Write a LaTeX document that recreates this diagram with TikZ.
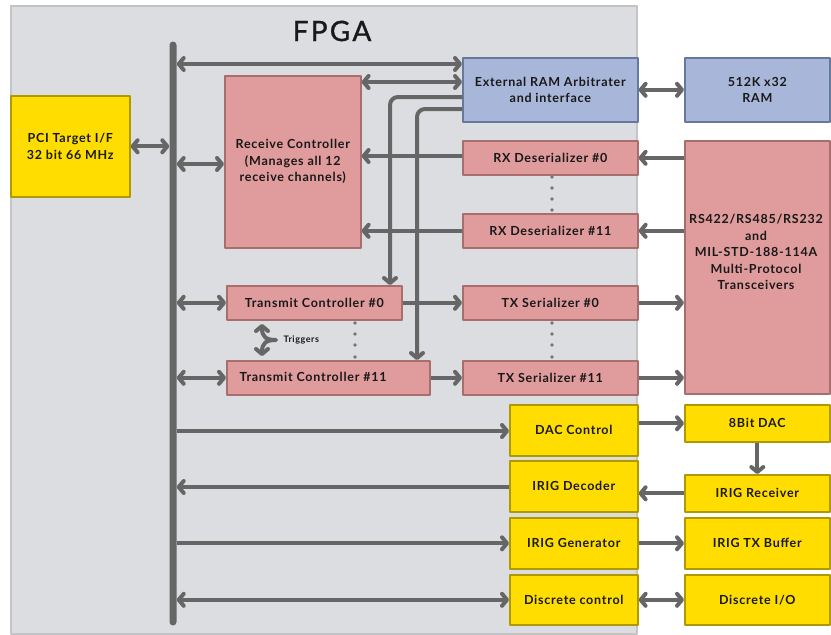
\documentclass[tikz,border=0pt]{standalone}
\usepackage{fontspec}
\setmainfont{Lato}
\newfontfamily\boxfont{Lato}[LetterSpace=6]
\newfontfamily\titlefont{Lato}[LetterSpace=8, FakeBold=1.2]
\usetikzlibrary{arrows.meta}
\definecolor{fpgabg}{HTML}{DCDDE0}
\definecolor{fpgaline}{HTML}{C4C4C6}
\definecolor{ylw}{HTML}{FFDD00}
\definecolor{ylwline}{HTML}{B09800}
\definecolor{pnk}{HTML}{E09B9C}
\definecolor{pnkline}{HTML}{A86E6E}
\definecolor{blu}{HTML}{A8B6D9}
\definecolor{bluline}{HTML}{66799C}
\definecolor{conn}{HTML}{666666}
\newcommand\blk[7]{\node[#1, minimum width=#5pt, minimum height=#6pt] (#2) at (#3,#4) {#7};}
\begin{document}
\begin{tikzpicture}[x=1pt,y=-1pt,
  box/.style={draw, line width=1.6pt, inner sep=0pt, align=center, anchor=north west,
    text=black!90, font=\boxfont\fontsize{12.5}{16.5}\selectfont\bfseries},
  ybox/.style={box, fill=ylw, draw=ylwline},
  pbox/.style={box, fill=pnk, draw=pnkline},
  bbox/.style={box, fill=blu, draw=bluline},
  lbl/.style={align=center, text=black!90, font=\boxfont\fontsize{12.5}{16.5}\selectfont\bfseries},
  >={Straight Barb[length=5pt,width=12pt,round]},
  every path/.append style={line join=round},
  wire/.style={draw=conn, line width=4pt},
  dot/.style={fill=conn!90},
]
\useasboundingbox (0,0) rectangle (831,635);
\node[draw=fpgaline, fill=fpgabg, line width=1.5pt, anchor=north west, minimum width=626pt, minimum height=628pt, inner sep=0pt] (fpga) at (10,5) {};
\node[font=\titlefont\fontsize{28}{30}\selectfont, text=black!90] (title) at (332,31) {FPGA};

\blk{ybox}{pci}{10}{95}{119}{101}{PCI Target I/F\\32 bit 66 MHz}
\blk{pbox}{rc}{224}{75}{136}{172}{Receive Controller\\(Manages all 12\\receive channels)}
\blk{bbox}{ram}{462}{57}{175}{64}{External RAM Arbitrater\\and interface}
\blk{bbox}{sram}{684}{57}{145}{64}{512K x32\\RAM}
\blk{pbox}{rx0}{462}{140}{175}{34}{RX Deserializer \#0}
\blk{pbox}{rx11}{462}{213}{175}{34}{RX Deserializer \#11}
\blk{pbox}{xcvr}{684}{140}{145}{253}{}
\node[lbl] (xcvrtext) at (756,252) {RS422/RS485/RS232\\and\\MIL-STD-188-114A\\Multi-Protocol\\Transceivers};
\blk{pbox}{tc0}{226}{285}{175}{34}{Transmit Controller \#0}
\blk{pbox}{tc11}{226}{360}{203}{34}{}
\node[lbl] (tc11text) at (313,377) {Transmit Controller \#11};
\blk{pbox}{tx0}{462}{285}{175}{34}{TX Serializer \#0}
\blk{pbox}{tx11}{462}{360}{175}{34}{TX Serializer \#11}
\blk{ybox}{dacc}{509}{404}{128}{51}{DAC Control}
\blk{ybox}{irigd}{509}{460}{128}{51}{IRIG Decoder}
\blk{ybox}{irigg}{509}{517}{128}{51}{IRIG Generator}
\blk{ybox}{disc}{509}{574}{128}{50}{Discrete control}
\blk{ybox}{dac}{684}{404}{145}{37}{8Bit DAC}
\blk{ybox}{irigr}{684}{474}{145}{37}{IRIG Receiver}
\blk{ybox}{irigt}{684}{517}{145}{51}{IRIG TX Buffer}
\blk{ybox}{dio}{684}{574}{145}{50}{Discrete I/O}

% bus
\node[fill=conn, minimum width=7pt, minimum height=584pt, inner sep=0pt, rounded corners=3.5pt] (bus) at (173,333.5) {};

% connectors
\draw[wire,<->] (pci.east) -- (bus.west |- pci.east);
\draw[wire,<->] (bus.east |- 0,64) -- (ram.west |- 0,64);
\draw[wire,<->] (rc.east |- 0,82) -- (ram.west |- 0,82);
\draw[wire,->, rounded corners=8pt] (ram.west |- 0,97) -- (390,97) -- (390,0 |- tc0.north);
\draw[wire,->, rounded corners=8pt] (ram.west |- 0,109) -- (417,109) -- (417,0 |- tc11.north);
\draw[wire,<->] (ram.east) -- (sram.west);
\draw[wire,<->] (bus.east |- 0,164) -- (rc.west |- 0,164);
\draw[wire,->] (rx0.west |- 0,156) -- (rc.east |- 0,156);
\draw[wire,->] (xcvr.west |- rx0.east) -- (rx0.east);
\draw[wire,->] (rx11.west) -- (rc.east |- rx11.west);
\draw[wire,->] (xcvr.west |- rx11.east) -- (rx11.east);
\draw[wire,<->] (bus.east |- tc0.west) -- (tc0.west);
\draw[wire,->] (tc0.east) -- (tx0.west);
\draw[wire,->] (tx0.east) -- (xcvr.west |- tx0.east);
\draw[wire,<->] (bus.east |- tc11.west) -- (tc11.west);
\draw[wire,->] (tc11.east) -- (tx11.west);
\draw[wire,->] (tx11.east) -- (xcvr.west |- tx11.east);
\draw[wire,->] (bus.east |- 0,431) -- (dacc.west |- 0,431);
\draw[wire,->] (dacc.east |- dac.west) -- (dac.west);
\draw[wire,->] (dac.south) -- (irigr.north);
\draw[wire,->] (irigr.west) -- (irigd.east |- irigr.west);
\draw[wire,->] (irigd.west |- 0,487) -- (bus.east |- 0,487);
\draw[wire,->] (bus.east |- irigg.west) -- (irigg.west);
\draw[wire,->] (irigg.east) -- (irigt.west);
\draw[wire,<->] (bus.east |- disc.west) -- (disc.west);
\draw[wire,<->] (disc.east) -- (dio.west);

% triggers
\draw[wire,<->] (262,324) .. controls (262,337) and (266,340) .. (276,340) .. controls (266,340) and (262,343) .. (262,356);
\node[anchor=west, text=black!90, font=\boxfont\fontsize{9}{10}\selectfont\bfseries] (trig) at (280,340) {Triggers};

% continuation dots
\foreach \y in {177,188,199,210} \fill[dot] (552,\y) circle[radius=1.8pt];
\foreach \y in {323,334,345,357} {\fill[dot] (552,\y) circle[radius=1.8pt]; \fill[dot] (355,\y) circle[radius=1.8pt];}
\end{tikzpicture}
\end{document}
